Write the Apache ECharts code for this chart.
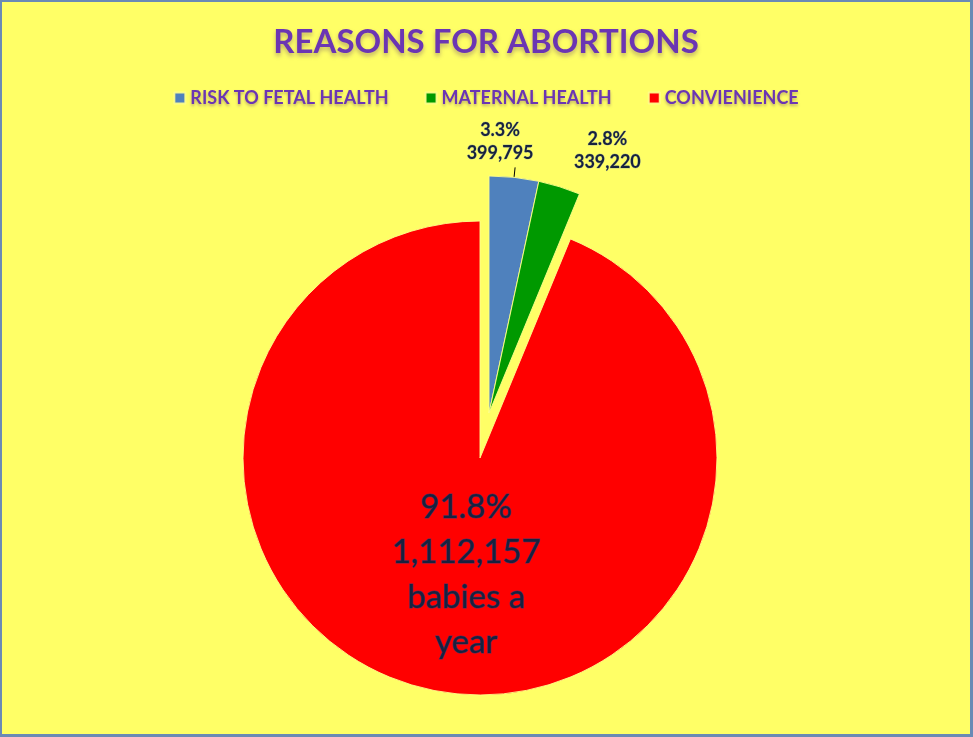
<!DOCTYPE html>
<html>
<head>
<meta charset="utf-8">
<script src="https://cdn.jsdelivr.net/npm/echarts@6/dist/echarts.min.js"></script>
<style>
  html, body { margin: 0; padding: 0; width: 973px; height: 737px; background: #6a8ab5; overflow: hidden; }
  #chart { position: absolute; left: 2px; top: 2px; width: 968px; height: 732px; background: #ffff66; }
</style>
</head>
<body>
<div id="chart"></div>
<script>
const titleText = 'REASONS FOR ABORTIONS';
const categories = ['RISK TO FETAL HEALTH', 'MATERNAL HEALTH', 'CONVIENIENCE'];
const percents = [3.3, 2.8, 91.8];
const counts = ['399,795', '339,220', '1,112,157'];
const extraText = ['', '', 'babies a\nyear'];

const sliceColors = ['#4f81bd', '#009900', '#ff0000'];
const FONT = 'Lato';
const purple = '#6b35b3';
const labelColor = '#17223f';

function fmt(i) {
  let s = percents[i].toFixed(1) + '%\n' + counts[i];
  if (extraText[i]) s += '\n' + extraText[i];
  return s;
}

const hidden = { color: 'rgba(0,0,0,0)', borderWidth: 0, shadowBlur: 0 };

// Series drawn at the main centre: the convenience slice; other slices are invisible gaps
const mainData = categories.map((c, i) => i === 2
  ? { name: c, value: percents[i], itemStyle: { color: sliceColors[i] } }
  : { name: '_gap' + i, value: percents[i], itemStyle: hidden, label: { show: false }, labelLine: { show: false }, emphasis: { disabled: true } });

// Series drawn at the exploded centre: the two health slices
const explodedData = categories.map((c, i) => i !== 2
  ? { name: c, value: percents[i], itemStyle: { color: sliceColors[i] } }
  : { name: '_gapx' + i, value: percents[i], itemStyle: hidden, label: { show: false }, labelLine: { show: false }, emphasis: { disabled: true } });

const labelOffsets = [[-20, -3], [40, -3]];

const chart = echarts.init(document.getElementById('chart'));
chart.setOption({
  backgroundColor: '#ffff66',
  animation: false,
  title: {
    text: titleText,
    left: 'center',
    top: 19,
    textStyle: {
      fontFamily: FONT, fontWeight: 'bold', fontSize: 33, color: purple,
      textShadowColor: 'rgba(70,30,110,0.35)', textShadowBlur: 4, textShadowOffsetY: 3
    }
  },
  legend: {
    data: categories,
    top: 82,
    left: 'center',
    itemWidth: 11,
    itemHeight: 11,
    itemGap: 36,
    icon: 'rect',
    textStyle: {
      fontFamily: FONT, fontWeight: 'bold', fontSize: 18, color: purple,
      textShadowColor: 'rgba(70,30,110,0.35)', textShadowBlur: 3, textShadowOffsetY: 2
    }
  },
  series: [
    {
      type: 'pie',
      center: [478, 456],
      radius: 237,
      startAngle: 90,
      clockwise: true,
      avoidLabelOverlap: false,
      silent: true,
      itemStyle: { borderColor: 'rgba(255,255,140,0.9)', borderWidth: 1 },
      label: {
        show: true,
        position: 'inside',
        formatter: p => fmt(p.dataIndex),
        fontFamily: FONT, fontSize: 33, lineHeight: 45, color: labelColor,
        textBorderColor: 'rgba(40,60,120,0.8)', textBorderWidth: 1
      },
      labelLayout: { dx: 10, dy: -2 },
      data: mainData
    },
    {
      type: 'pie',
      center: [487, 411],
      radius: 237,
      startAngle: 90,
      clockwise: true,
      avoidLabelOverlap: false,
      silent: true,
      itemStyle: { borderColor: 'rgba(255,255,140,0.9)', borderWidth: 1 },
      label: {
        show: true,
        position: 'outside',
        formatter: p => fmt(p.dataIndex),
        fontFamily: FONT, fontWeight: 'bold', fontSize: 18, lineHeight: 23, color: labelColor,
        textBorderColor: 'rgba(90,120,200,0.4)', textBorderWidth: 0.8
      },
      labelLine: { show: true, length: 10, length2: 0, lineStyle: { color: '#000', width: 1 } },
      labelLayout: p => {
        const o = labelOffsets[p.dataIndex];
        if (!o) return {};
        return { dx: o[0], dy: o[1], align: 'center', verticalAlign: 'bottom' };
      },
      data: explodedData.map((d, i) => i === 1 ? Object.assign({}, d, { labelLine: { show: false } }) : d)
    }
  ]
});
</script>
</body>
</html>
